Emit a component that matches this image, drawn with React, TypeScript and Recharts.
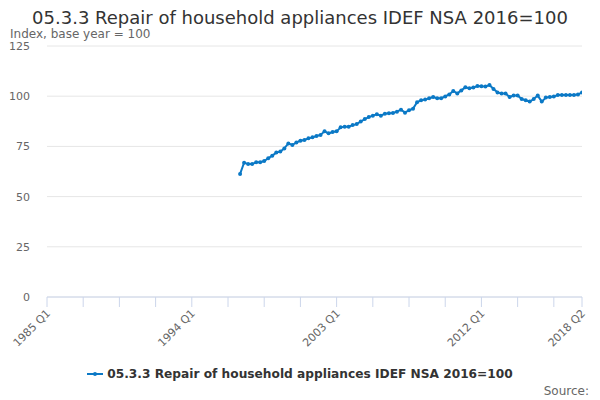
import React from "react";
import { LineChart, Line, XAxis, YAxis, CartesianGrid } from "recharts";

// Quarterly categories 1985 Q1 .. 2018 Q2
const firstYear = 1985;
const categories: string[] = [];
for (let i = 0; i < 134; i++) {
  categories.push(`${firstYear + Math.floor(i / 4)} Q${(i % 4) + 1}`);
}

// Series starts at 1997 Q1 (category index 48)
const seriesStart = 48;
const seriesName = "05.3.3 Repair of household appliances IDEF NSA 2016=100";
const seriesValues: number[] = [
  61.3, 66.9, 66.2, 66.2, 67.1, 67.1, 67.7, 69.1, 70.4, 71.9, 72.4, 74.0,
  76.5, 75.7, 77.0, 77.8, 78.2, 79.0, 79.5, 80.2, 80.7, 82.5, 81.5, 82.2,
  82.5, 84.5, 84.8, 84.8, 85.6, 86.1, 87.4, 88.6, 89.6, 90.3, 91.0, 90.3,
  91.3, 91.5, 91.6, 92.3, 93.3, 91.8, 93.0, 93.8, 97.0, 98.0, 98.3, 99.0,
  99.6, 99.0, 99.0, 99.9, 100.9, 102.6, 101.4, 102.9, 104.4, 104.0, 104.3,
  105.1, 104.9, 104.8, 105.6, 103.6, 101.9, 101.3, 101.3, 99.6, 100.3, 100.3,
  98.6, 98.0, 97.3, 98.6, 100.3, 97.3, 99.3, 99.6, 99.9, 100.6, 100.6, 100.6,
  100.6, 100.6, 100.8, 101.9,
];

const yTicks = [0, 25, 50, 75, 100, 125];
const xTickIdx = [0, 9, 18, 27, 36, 45, 54, 63, 72, 81, 90, 99, 108, 117, 126, 133];
const xLabelIdx = [0, 36, 72, 108, 133];

const data = seriesValues.map((v, i) => ({ idx: seriesStart + i, value: v }));

const LINE_COLOR = "#0b79c6";
const FONT = "'DejaVu Sans', Verdana, sans-serif";

const XTick = (props: any) => {
  const { x, y, payload } = props;
  if (!xLabelIdx.includes(payload.value)) return null;
  return (
    <g transform={`translate(${x + 4},${y + 3})`}>
      <text
        x={0}
        y={0}
        textAnchor="end"
        fill="#666666"
        fontSize={11}
        fontFamily={FONT}
        transform="rotate(-45)"
      >
        {categories[payload.value]}
      </text>
    </g>
  );
};

export default function App() {
  return (
    <div
      style={{
        position: "absolute",
        left: 0,
        top: 0,
        width: 600,
        height: 400,
        background: "#ffffff",
        fontFamily: FONT,
      }}
    >
      <div
        style={{
          position: "absolute",
          left: 0,
          width: 600,
          top: 8,
          lineHeight: "20px",
          textAlign: "center",
          fontSize: 18,
          color: "#333333",
          whiteSpace: "nowrap",
        }}
      >
        {seriesName}
      </div>
      <div
        style={{
          position: "absolute",
          left: 10,
          top: 28,
          lineHeight: "13px",
          fontSize: 12,
          color: "#666666",
          whiteSpace: "nowrap",
        }}
      >
        Index, base year = 100
      </div>
      <LineChart
        width={600}
        height={400}
        data={data}
        margin={{ top: 46, right: 18, left: 7, bottom: 53 }}
      >
        <CartesianGrid vertical={false} stroke="#e6e6e6" />
        <XAxis
          dataKey="idx"
          type="number"
          domain={[0, 133]}
          ticks={xTickIdx}
          interval={0}
          tickSize={10}
          tickMargin={4}
          height={50}
          axisLine={{ stroke: "#ccd6eb" }}
          tickLine={{ stroke: "#ccd6eb" }}
          tick={<XTick />}
          allowDataOverflow
        />
        <YAxis
          domain={[0, 125]}
          ticks={yTicks}
          width={40}
          axisLine={false}
          tickLine={false}
          tickMargin={11}
          tick={{ fill: "#666666", fontSize: 11, fontFamily: FONT }}
        />
        <Line
          type="linear"
          dataKey="value"
          name={seriesName}
          stroke={LINE_COLOR}
          strokeWidth={2}
          dot={{ r: 2, fill: LINE_COLOR, stroke: LINE_COLOR, strokeWidth: 0 }}
          activeDot={false}
          isAnimationActive={false}
        />
      </LineChart>
      <div
        style={{
          position: "absolute",
          left: 0,
          width: 600,
          top: 367,
          display: "flex",
          justifyContent: "center",
          alignItems: "center",
          fontSize: 12.2,
          fontWeight: "bold",
          color: "#333333",
          whiteSpace: "nowrap",
        }}
      >
        <svg width={16} height={10} style={{ marginRight: 4 }}>
          <line x1={0} y1={5} x2={16} y2={5} stroke={LINE_COLOR} strokeWidth={2} />
          <circle cx={8} cy={5} r={2} fill={LINE_COLOR} />
        </svg>
        <span>{seriesName}</span>
      </div>
      <div
        style={{
          position: "absolute",
          right: 11,
          top: 384,
          fontSize: 12,
          color: "#666666",
        }}
      >
        Source:
      </div>
    </div>
  );
}
